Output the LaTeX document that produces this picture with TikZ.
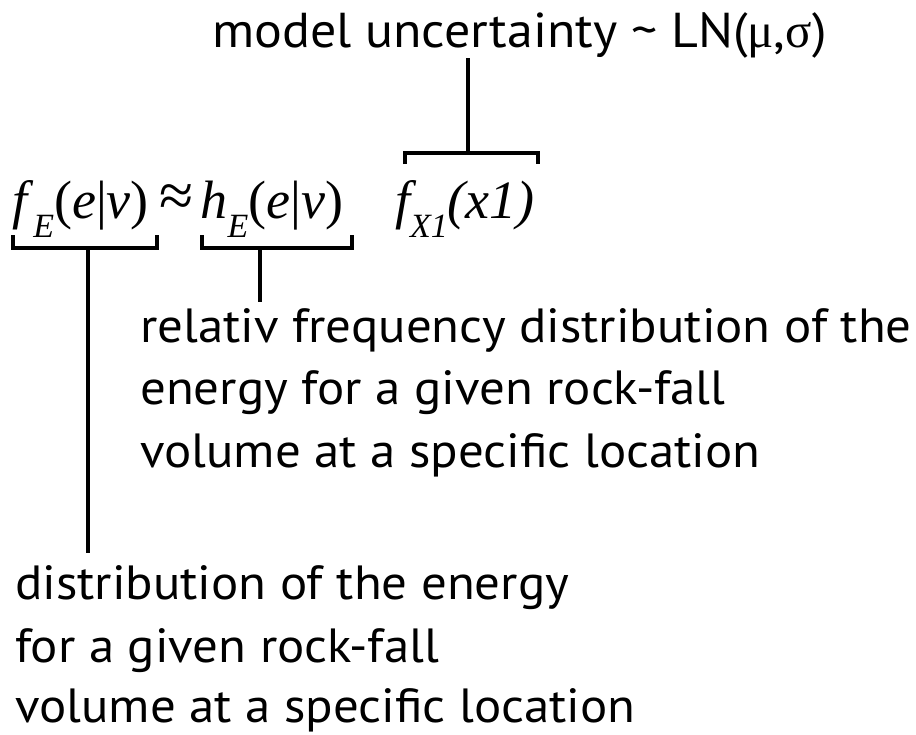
\documentclass[tikz,border=0pt]{standalone}
\usepackage{fontspec}
\setmainfont[FakeStretch=1.06]{PT Sans}
\newfontfamily\fmlfont{Liberation Serif}
\newcommand\lsubx[1]{\raisebox{-0.37em}{\fontsize{34}{34}\selectfont\itshape #1}}
\begin{document}
\begin{tikzpicture}[x=1pt,y=-1pt,
  lbl/.style={anchor=base west,inner sep=0pt,font=\fontsize{48}{62}\selectfont},
  fml/.style={anchor=base west,inner sep=0pt,font=\fmlfont\fontsize{54}{56}\selectfont},
  brk/.style={line width=4pt,line cap=butt,line join=miter}]
\useasboundingbox (0,0) rectangle (916,734);
% top label
\node[lbl,font=\fontsize{49}{60}\selectfont] (mu) at (212,47) {model uncertainty \textasciitilde{} LN({\fmlfont μ},{\fmlfont σ})};
% formula
\node[fml] (fE) at (12,218) {\textit{f}\lsubx{E}(\textit{e}|\textit{v})};
\node[fml,font=\fmlfont\fontsize{62}{62}\selectfont] (ap) at ([xshift=10pt,yshift=2pt]fE.base east) {≈};
\node[fml] (hE) at ([xshift=7pt,yshift=-2pt]ap.base east) {\textit{h}\lsubx{E}(\textit{e}|\textit{v})};
\node[fml] (fX) at (395,218) {\itshape f\lsubx{X1}(x1)};
% descriptions
\node[lbl] (r1) at (140,342) {relativ frequency distribution of the};
\node[lbl] (r2) at (140,404) {energy for a given rock-fall};
\node[lbl] (r3) at (140,467) {volume at a specific location};
\node[lbl] (d1) at (15,599) {distribution of the energy};
\node[lbl] (d2) at (15,662) {for a given rock-fall};
\node[lbl] (d3) at (15,722) {volume at a specific location};
% brackets
\coordinate (b1m) at (88,248);
\coordinate (b2m) at (260,248);
\coordinate (b3m) at (468,153);
\draw[brk] (13,235) |- (157,248) -- (157,235);
\draw[brk] (202,235) |- (352,248) -- (352,235);
\draw[brk] (405,164) |- (538,153) -- (538,164);
% connectors
\draw[brk] (b1m) -- ([yshift=12pt]b1m |- d1.north);
\draw[brk] (b2m) -- ([yshift=6pt]b2m |- r1.north);
\draw[brk] (b3m) -- (b3m |- mu.south);
\end{tikzpicture}
\end{document}
